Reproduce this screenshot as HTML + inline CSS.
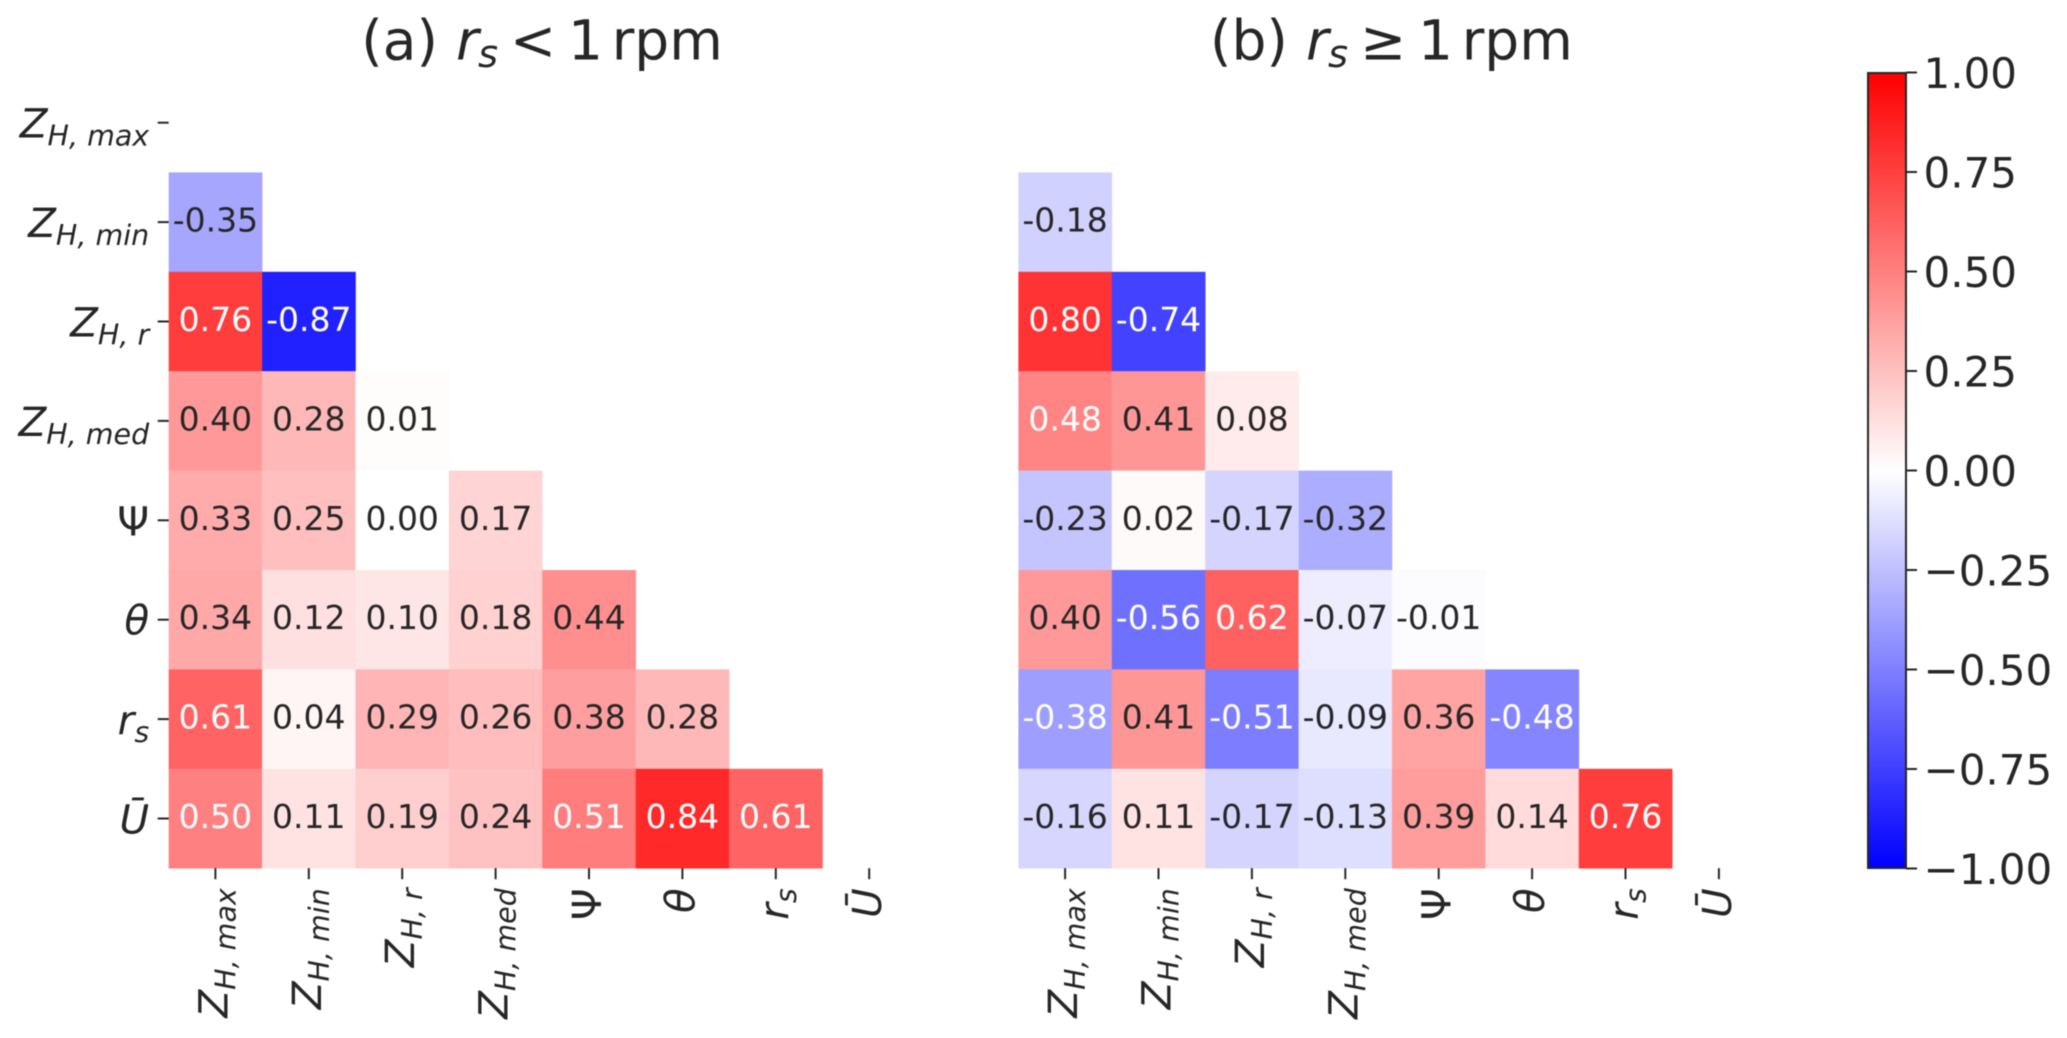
<!DOCTYPE html>
<html lang="en">
<head>
<meta charset="utf-8">
<title>Correlation heatmaps</title>
<style>
html,body{margin:0;padding:0;background:#fff;}
svg{display:block;filter:blur(0.4px);}
text{font-family:"DejaVu Sans","Liberation Sans",sans-serif;fill:#262626;}
</style>
</head>
<body>
<svg id="chart" xmlns="http://www.w3.org/2000/svg" width="2067" height="1038" viewBox="0 0 2067 1038">
  <defs>
    <linearGradient id="bwr" x1="0" y1="0" x2="0" y2="1">
      <stop offset="0" stop-color="#ff0000"/>
      <stop offset="0.5" stop-color="#ffffff"/>
      <stop offset="1" stop-color="#0000ff"/>
    </linearGradient>
  </defs>
  <text y="59.5" font-size="55"><tspan x="361.3">(a)</tspan><tspan x="456" font-style="italic">r</tspan><tspan x="478" font-style="italic" font-size="38.5" dy="7.5">s</tspan><tspan x="510" dy="-7.5">&lt;</tspan><tspan x="568">1</tspan><tspan x="611.7">rpm</tspan></text>
  <text y="59.5" font-size="55"><tspan x="1210">(b)</tspan><tspan x="1306" font-style="italic">r</tspan><tspan x="1328" font-style="italic" font-size="38.5" dy="7.5">s</tspan><tspan x="1360" dy="-7.5">≥</tspan><tspan x="1418">1</tspan><tspan x="1461.7">rpm</tspan></text>
  <g id="panelA"></g>
  <g id="panelB"></g>
  <g id="cbar">
    <rect x="1868" y="73" width="38" height="795" fill="url(#bwr)" stroke="#262626" stroke-width="2"/>
  </g>
</svg>
<script>
const labelMain = ['Z', 'Z', 'Z', 'Z', 'Ψ', 'θ', 'r', 'Ū'];
const labelSub = ['H, max', 'H, min', 'H, r', 'H, med', '', '', 's', ''];
const labelItalic = [true, true, true, true, false, true, true, true];

const valuesA = [
  [],
  [-0.35],
  [0.76, -0.87],
  [0.40, 0.28, 0.01],
  [0.33, 0.25, 0.00, 0.17],
  [0.34, 0.12, 0.10, 0.18, 0.44],
  [0.61, 0.04, 0.29, 0.26, 0.38, 0.28],
  [0.50, 0.11, 0.19, 0.24, 0.51, 0.84, 0.61]
];
const valuesB = [
  [],
  [-0.18],
  [0.80, -0.74],
  [0.48, 0.41, 0.08],
  [-0.23, 0.02, -0.17, -0.32],
  [0.40, -0.56, 0.62, -0.07, -0.01],
  [-0.38, 0.41, -0.51, -0.09, 0.36, -0.48],
  [-0.16, 0.11, -0.17, -0.13, 0.39, 0.14, 0.76]
];
const colorbarTicks = [1.00, 0.75, 0.50, 0.25, 0.00, -0.25, -0.50, -0.75, -1.00];

const NS = 'http://www.w3.org/2000/svg';
const TOP = 73;
const CELL_W = 93.4;
const CELL_H = 99.4;
const CB_TOP = 72.5;
const CB_BOTTOM = 868.5;

function make(tag, parent, attrs) {
  const el = document.createElementNS(NS, tag);
  for (const k in attrs) el.setAttribute(k, attrs[k]);
  parent.appendChild(el);
  return el;
}
function xScale(left, j) { return left + j * CELL_W; }
function yScale(i) { return TOP + i * CELL_H; }
function cbarScale(v) { return CB_TOP + (1 - v) / 2 * (CB_BOTTOM - CB_TOP); }
function rgbFor(v) {
  const t = Math.max(-1, Math.min(1, v));
  const c = Math.round(255 * (1 - Math.abs(t)));
  return t >= 0 ? [255, c, c] : [c, c, 255];
}
function luminance(rgb) {
  const lin = rgb.map(function (c) {
    const s = c / 255;
    return s <= 0.03928 ? s / 12.92 : Math.pow((s + 0.055) / 1.055, 2.4);
  });
  return 0.2126 * lin[0] + 0.7152 * lin[1] + 0.0722 * lin[2];
}
function fillLabel(text, idx) {
  const main = make('tspan', text, {});
  main.textContent = labelMain[idx];
  if (labelItalic[idx]) main.setAttribute('font-style', 'italic');
  if (labelSub[idx]) {
    const sub = make('tspan', text, { 'font-size': 28.5, 'font-style': 'italic', dy: 8 });
    sub.textContent = labelSub[idx];
  }
}

function drawPanel(group, values, left, showY) {
  const n = labelMain.length;
  values.forEach(function (row, i) {
    row.forEach(function (v, j) {
      const rgb = rgbFor(v);
      const rect = make('rect', group, {
        x: xScale(left, j), y: yScale(i), width: CELL_W + 0.3, height: CELL_H + 0.3,
        fill: 'rgb(' + rgb.join(',') + ')'
      });
      
      
      const txt = make('text', group, {
        x: xScale(left, j) + CELL_W / 2, y: yScale(i) + CELL_H / 2 + 9.5,
        'text-anchor': 'middle', 'font-size': 33
      });
      txt.style.fill = luminance(rgb) > 0.408 ? '#262626' : '#ffffff';
      txt.textContent = v.toFixed(2);
      
      
    });
  });
  for (let k = 0; k < n; k++) {
    const tx = xScale(left, k) + CELL_W / 2;
    const xt = make('line', group, { x1: tx, x2: tx, y1: yScale(n), y2: yScale(n) + 11, stroke: '#262626', 'stroke-width': 2 });
    
    
    const bx = tx + 12;
    const by = yScale(n) + 20;
    const xl = make('text', group, {
      x: bx, y: by, 'text-anchor': 'end', 'font-size': 40.5,
      transform: 'rotate(-90 ' + bx + ' ' + by + ')'
    });
    fillLabel(xl, k);
    
    
    if (showY) {
      const ty = yScale(k) + CELL_H / 2;
      const yt = make('line', group, { x1: left - 11, x2: left, y1: ty, y2: ty, stroke: '#262626', 'stroke-width': 2 });
      
      
      const yl = make('text', group, { x: left - 19.5, y: ty + 15, 'text-anchor': 'end', 'font-size': 40.5 });
      fillLabel(yl, k);
      
      
    }
  }
}

drawPanel(document.getElementById('panelA'), valuesA, 168.7, true);
drawPanel(document.getElementById('panelB'), valuesB, 1018.4, false);

const cbar = document.getElementById('cbar');
colorbarTicks.forEach(function (v) {
  const y = cbarScale(v);
  const t = make('line', cbar, { x1: 1906, x2: 1917, y1: y, y2: y, stroke: '#262626', 'stroke-width': 2 });
  
  
  const l = make('text', cbar, { x: 1923.5, y: y + 15.5, 'font-size': 42 });
  l.textContent = (v < 0 ? '\u2212' : '') + Math.abs(v).toFixed(2);
  
  
});
</script>
</body>
</html>
